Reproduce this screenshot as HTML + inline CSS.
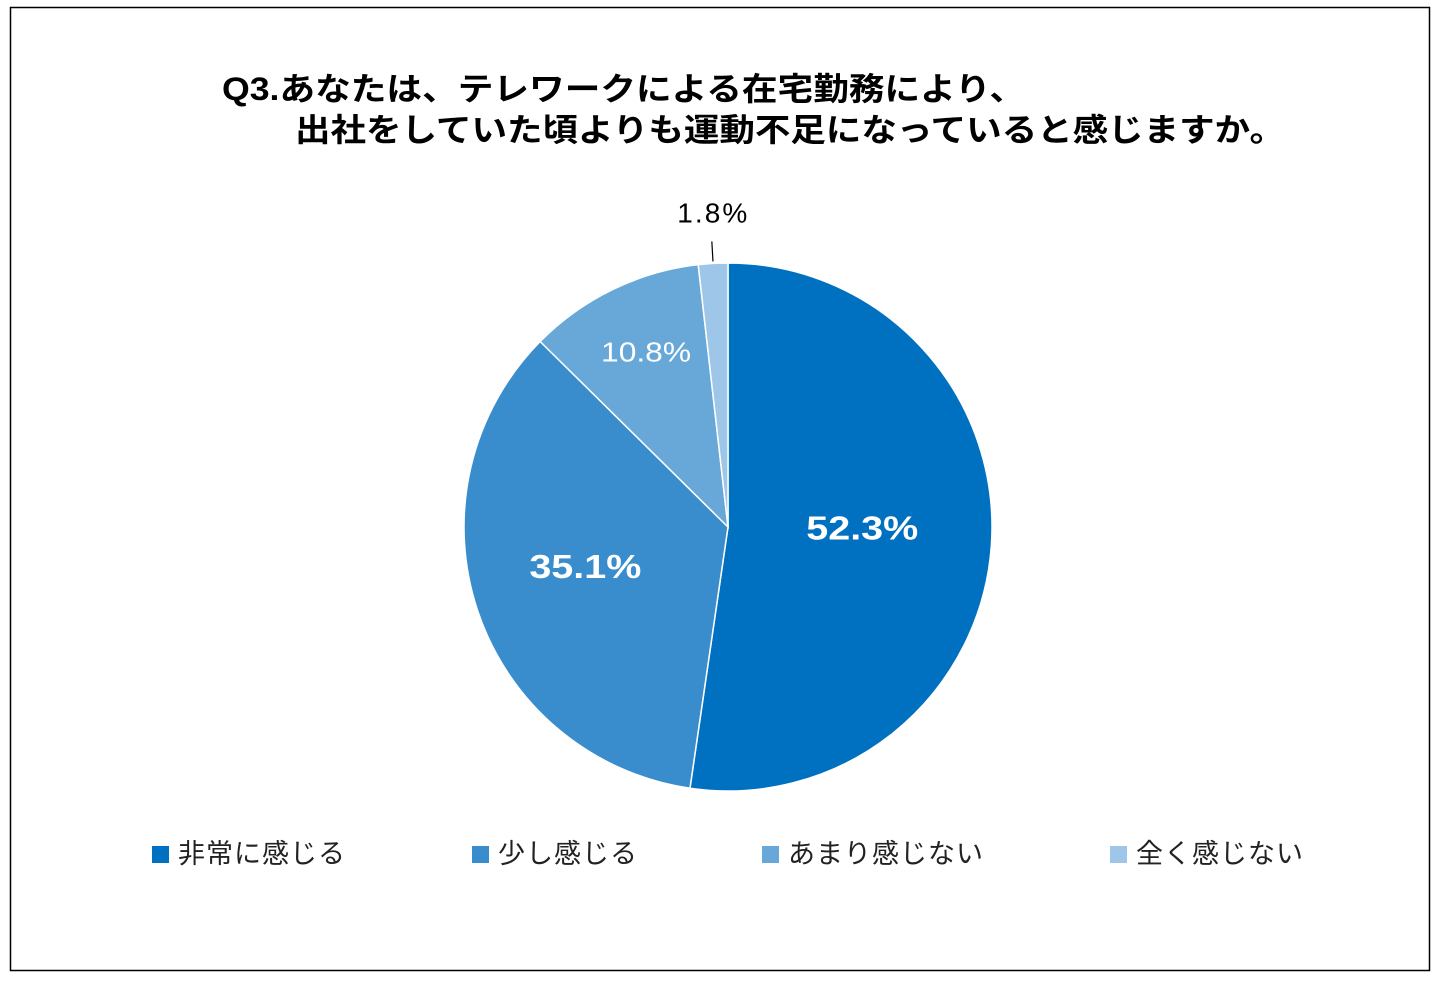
<!DOCTYPE html>
<html><head><meta charset="utf-8">
<style>
html,body{margin:0;padding:0;background:#fff;}
svg{display:block;font-family:"Liberation Sans","Noto Sans CJK JP",sans-serif;}
</style></head>
<body>
<svg id="chart" width="1440" height="982" viewBox="0 0 1440 982">
  <rect x="10.5" y="7.5" width="1419" height="963" fill="#fff" stroke="#000" stroke-width="1.5"/>
  <text x="222" y="100" font-size="32" font-weight="bold" fill="#000" textLength="803" lengthAdjust="spacingAndGlyphs">Q3.あなたは、テレワークによる在宅勤務により、</text>
  <text x="295" y="141" font-size="32" font-weight="bold" fill="#000" textLength="990" lengthAdjust="spacingAndGlyphs">出社をしていた頃よりも運動不足になっていると感じますか。</text>
  <g id="slices"></g>
  <g id="labels"></g>
  <g id="legend"></g>
</svg>
<script>
const categories = ["非常に感じる","少し感じる","あまり感じない","全く感じない"];
const values = [52.3, 35.1, 10.8, 1.8];
const valueLabels = ["52.3%","35.1%","10.8%","1.8%"];
const colors = ["#0070C0","#3A8DCD","#68A8D8","#9DC6E8"];

const NS = "http://www.w3.org/2000/svg";
const cx = 728, cy = 527, R = 264;
const labelRadius = [0.51, 0.57, 0.71];
const total = values.reduce((a,b)=>a+b,0);
function pt(frac, r){ const a = frac*2*Math.PI; return [cx + r*Math.sin(a), cy - r*Math.cos(a)]; }
const slicesG = document.getElementById('slices');
const labelsG = document.getElementById('labels');
const legendG = document.getElementById('legend');
let acc = 0;
values.forEach((v,i)=>{
  const f0 = acc/total, f1 = (acc+v)/total; acc += v;
  const [x0,y0] = pt(f0,R), [x1,y1] = pt(f1,R);
  const large = (f1-f0) > 0.5 ? 1 : 0;
  const p = document.createElementNS(NS,'path');
  p.setAttribute('d',`M${cx},${cy} L${x0},${y0} A${R},${R} 0 ${large} 1 ${x1},${y1} Z`);
  p.setAttribute('fill',colors[i]);
  p.setAttribute('stroke','#fff');
  p.setAttribute('stroke-width','1.5');
  
  
  slicesG.appendChild(p);
  const mid = (f0+f1)/2;
  const t = document.createElementNS(NS,'text');
  t.textContent = valueLabels[i];
  t.setAttribute('text-anchor','middle');
  
  
  if (f1-f0 < 0.05) {
    const [lx0,ly0] = pt(mid,R+2), [lx1,ly1] = pt(mid,R+22);
    const ln = document.createElementNS(NS,'line');
    ln.setAttribute('x1',lx0); ln.setAttribute('y1',ly0);
    ln.setAttribute('x2',lx1); ln.setAttribute('y2',ly1);
    ln.setAttribute('stroke','#000'); ln.setAttribute('stroke-width','1.2');
    
    
    labelsG.appendChild(ln);
    const [tx,ty] = pt(mid,R+50);
    t.setAttribute('x',tx+2); t.setAttribute('y',ty+9);
    t.setAttribute('font-size','28'); t.setAttribute('fill','#000');
    t.setAttribute('textLength','70');
  } else {
    const rr = R*labelRadius[i];
    const [tx,ty] = pt(mid,rr);
    t.setAttribute('x',tx); t.setAttribute('y',ty+3);
    if ((f1-f0) > 0.2) { t.setAttribute('font-size','33'); t.setAttribute('font-weight','bold'); t.setAttribute('textLength','112'); }
    else { t.setAttribute('font-size','28'); t.setAttribute('textLength','90'); }
    t.setAttribute('lengthAdjust','spacingAndGlyphs');
    t.setAttribute('fill','#fff');
  }
  labelsG.appendChild(t);
});
const legendX = [152, 472, 762, 1110];
categories.forEach((c,i)=>{
  const g = document.createElementNS(NS,'g');
  
  
  const r = document.createElementNS(NS,'rect');
  r.setAttribute('x',legendX[i]); r.setAttribute('y',846);
  r.setAttribute('width',17); r.setAttribute('height',17);
  r.setAttribute('fill',colors[i]);
  
  
  const t = document.createElementNS(NS,'text');
  t.setAttribute('x',legendX[i]+26); t.setAttribute('y',863);
  t.setAttribute('font-size','27'); t.setAttribute('fill','#222');
  t.setAttribute('letter-spacing','1');
  t.textContent = c;
  
  
  g.appendChild(r); g.appendChild(t);
  legendG.appendChild(g);
});
</script>
</body></html>
